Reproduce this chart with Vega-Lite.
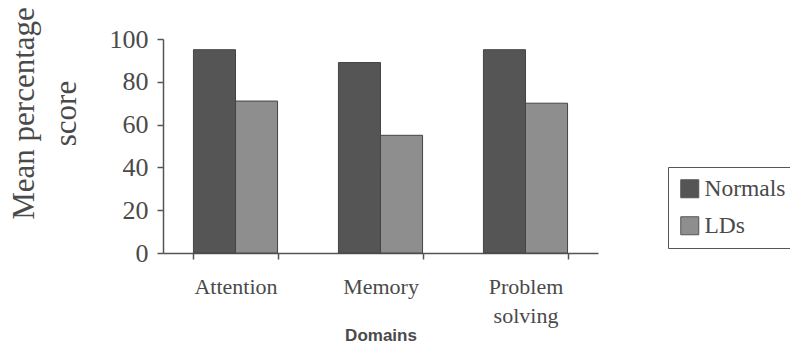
{
  "$schema": "https://vega.github.io/schema/vega-lite/v6.json",
  "autosize": {"type": "none"},
  "padding": {"left": 163, "top": 39, "right": 192, "bottom": 92},
  "width": 435,
  "height": 214,
  "background": "white",
  "data": {
    "values": [
      {"domain": "Attention", "group": "Normals", "score": 95},
      {"domain": "Attention", "group": "LDs", "score": 71},
      {"domain": "Memory", "group": "Normals", "score": 89},
      {"domain": "Memory", "group": "LDs", "score": 55},
      {"domain": "Problem solving", "group": "Normals", "score": 95},
      {"domain": "Problem solving", "group": "LDs", "score": 70}
    ]
  },
  "mark": {"type": "bar", "stroke": "#444444", "strokeWidth": 1},
  "encoding": {
    "x": {
      "field": "domain",
      "type": "nominal",
      "sort": null,
      "scale": {"paddingInner": 0.42, "paddingOuter": 0.21},
      "axis": {
        "title": "Domains",
        "titleFont": "Liberation Sans",
        "titleFontWeight": "bold",
        "titleFontSize": 17,
        "titleColor": "#4a4a4a",
        "titleY": 82,
        "titleBaseline": "middle",
        "labelAngle": 0,
        "labelFont": "Liberation Serif",
        "labelFontSize": 22,
        "labelColor": "#4a4a4a",
        "labelBaseline": "top",
        "labelPadding": 17,
        "labelLineHeight": 29,
        "labelExpr": "split(datum.label, ' ')",
        "tickBand": "extent",
        "tickSize": 6,
        "tickColor": "#555555",
        "tickWidth": 1.5,
        "domainColor": "#555555",
        "domainWidth": 1.5
      }
    },
    "xOffset": {"field": "group", "type": "nominal", "sort": ["Normals", "LDs"], "scale": {"padding": 0}},
    "y": {
      "field": "score",
      "type": "quantitative",
      "scale": {"domain": [0, 100]},
      "axis": {
        "title": ["Mean percentage", "score"],
        "titleFont": "Liberation Serif",
        "titleFontWeight": "normal",
        "titleFontSize": 31,
        "titleColor": "#4a4a4a",
        "titleLineHeight": 42,
        "titleBaseline": "alphabetic",
        "titleX": -130,
        "titleY": 74,
        "titleAngle": -90,
        "titleAlign": "center",
        "values": [0, 20, 40, 60, 80, 100],
        "labelFont": "Liberation Serif",
        "labelFontSize": 26,
        "labelColor": "#4a4a4a",
        "labelPadding": 9,
        "tickSize": 6,
        "tickColor": "#555555",
        "tickWidth": 1.5,
        "domainColor": "#555555",
        "domainWidth": 1.5,
        "grid": false
      }
    },
    "color": {
      "field": "group",
      "type": "nominal",
      "sort": ["Normals", "LDs"],
      "scale": {"domain": ["Normals", "LDs"], "range": ["#555555", "#8e8e8e"]},
      "legend": {
        "title": null,
        "orient": "none",
        "legendX": 505,
        "legendY": 128,
        "strokeColor": "#555555",
        "padding": 10,
        "symbolType": "square",
        "symbolSize": 324,
        "symbolStrokeColor": "#555555",
        "symbolStrokeWidth": 1,
        "labelFont": "Liberation Serif",
        "labelFontSize": 23.5,
        "labelColor": "#4a4a4a",
        "labelOffset": 3,
        "rowPadding": 12
      }
    }
  },
  "config": {"view": {"stroke": null}}
}
